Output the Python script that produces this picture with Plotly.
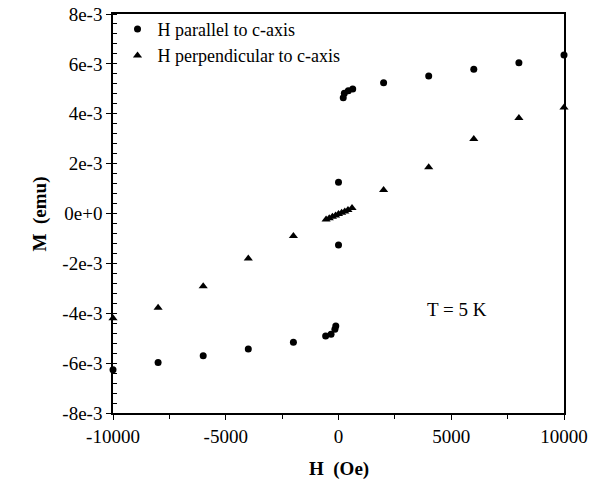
import plotly.graph_objects as go

# H parallel to c-axis (circles)
H_par = [-10000, -8000, -6000, -4000, -2000, -570, -330, -160, -120, 0, 0,
         210, 260, 435, 630, 2000, 4000, 6000, 8000, 10000]
M_par = [-6.27e-3, -5.97e-3, -5.70e-3, -5.43e-3, -5.16e-3, -4.91e-3, -4.84e-3,
         -4.64e-3, -4.51e-3, -1.26e-3, 1.25e-3, 4.64e-3, 4.82e-3, 4.92e-3,
         4.99e-3, 5.24e-3, 5.51e-3, 5.78e-3, 6.05e-3, 6.36e-3]

# H perpendicular to c-axis (triangles)
H_perp = [-10000, -8000, -6000, -4000, -2000, -550, -410, -270, -130, 0, 140,
          280, 420, 600, 2000, 4000, 6000, 8000, 10000]
M_perp = [-4.20e-3, -3.78e-3, -2.92e-3, -1.80e-3, -0.90e-3, -0.24e-3, -0.19e-3,
          -0.13e-3, -0.08e-3, -0.02e-3, 0.03e-3, 0.08e-3, 0.14e-3, 0.22e-3,
          0.94e-3, 1.85e-3, 2.99e-3, 3.83e-3, 4.25e-3]

x_tickvals = [-10000, -5000, 0, 5000, 10000]
x_ticktext = ["-10000", "-5000", "0", "5000", "10000"]
y_tickvals = [8e-3, 6e-3, 4e-3, 2e-3, 0, -2e-3, -4e-3, -6e-3, -8e-3]
y_ticktext = ["8e-3", "6e-3", "4e-3", "2e-3", "0e+0", "-2e-3", "-4e-3", "-6e-3", "-8e-3"]

SERIF = "Liberation Serif"

fig = go.Figure()
fig.add_trace(go.Scatter(
    x=H_par, y=M_par, mode="markers", name="H parallel to c-axis",
    marker=dict(symbol="circle", size=7, color="black"),
    cliponaxis=False,
))
fig.add_trace(go.Scatter(
    x=H_perp, y=M_perp, mode="markers", name="H perpendicular to c-axis",
    marker=dict(symbol="triangle-up", size=8, color="black"),
    cliponaxis=False,
))

fig.update_layout(
    width=590, height=487,
    margin=dict(l=113, r=26, t=14, b=74, autoexpand=False),
    paper_bgcolor="white", plot_bgcolor="white",
    font=dict(family=SERIF, size=19, color="black"),
    showlegend=True,
    legend=dict(x=0.01, y=1.008, xanchor="left", yanchor="top",
                bgcolor="rgba(0,0,0,0)", font=dict(family=SERIF, size=18),
                itemsizing="trace"),
    xaxis=dict(
        range=[-10000, 10000], showgrid=False, zeroline=False, automargin=False,
        showline=True, linecolor="black", linewidth=1.5, mirror=True,
        ticks="outside", ticklen=5, tickwidth=1.2, tickcolor="black",
        tickvals=x_tickvals, ticktext=x_ticktext,
        minor=dict(ticks="outside", ticklen=4, tickwidth=1, tickcolor="black", dtick=2500, tick0=0),
        tickfont=dict(family=SERIF, size=19),
    ),
    yaxis=dict(
        range=[-8e-3, 8e-3], showgrid=False, zeroline=False, automargin=False,
        showline=True, linecolor="black", linewidth=1.5, mirror=True,
        ticks="outside", ticklen=5, tickwidth=1.2, tickcolor="black",
        tickvals=y_tickvals, ticktext=y_ticktext,
        minor=dict(ticks="inside", ticklen=4, tickwidth=1, tickcolor="black", dtick=0.4e-3, tick0=0),
        tickfont=dict(family=SERIF, size=19),
    ),
    annotations=[
        dict(text="<b>H  (Oe)</b>", xref="paper", yref="paper", x=0.5, y=-0.14,
             showarrow=False, font=dict(family=SERIF, size=19), xanchor="center", yanchor="middle"),
        dict(text="<b>M  (emu)</b>", xref="paper", yref="paper", x=-0.162, y=0.5,
             showarrow=False, textangle=-90, font=dict(family=SERIF, size=19),
             xanchor="center", yanchor="middle"),
        dict(text="T = 5 K", xref="x", yref="y", x=5250, y=-3.83e-3,
             showarrow=False, font=dict(family=SERIF, size=19), xanchor="center", yanchor="middle"),
    ],
)

fig.write_html("out.html")
